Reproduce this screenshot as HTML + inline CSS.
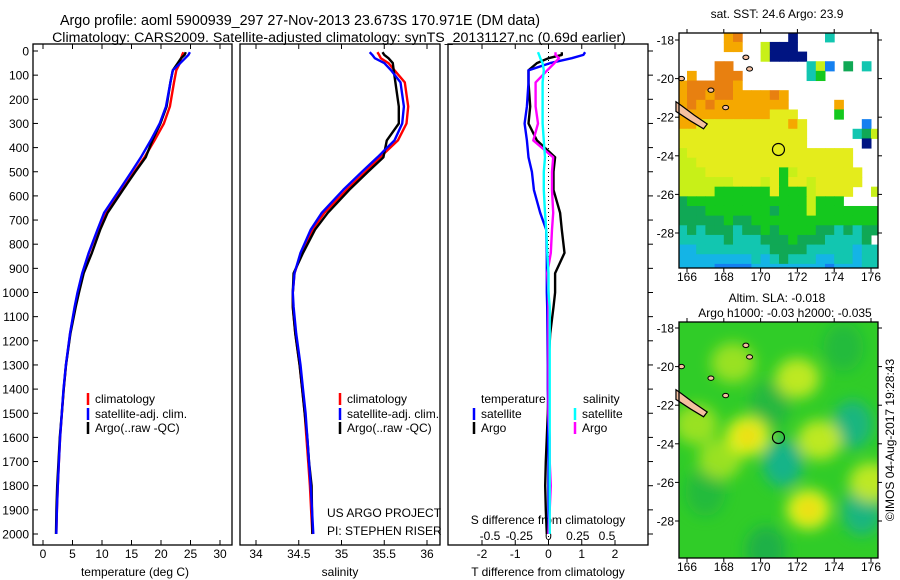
<!DOCTYPE html>
<html><head><meta charset="utf-8"><style>
body{margin:0;background:#fff;}
svg{display:block;font-family:"Liberation Sans",sans-serif;}
text{fill:#000;}
</style></head><body>
<svg id="c" width="900" height="580" viewBox="0 0 900 580">
<text x="300" y="25" font-size="14.3" text-anchor="middle">Argo profile: aoml 5900939_297 27-Nov-2013 23.673S 170.971E (DM data)</text>
<text x="339" y="42" font-size="14.2" text-anchor="middle">Climatology: CARS2009. Satellite-adjusted climatology: synTS_20131127.nc (0.69d earlier)</text>
<text x="135" y="576" font-size="12" text-anchor="middle">temperature (deg C)</text>
<text x="340" y="576" font-size="12" text-anchor="middle">salinity</text>
<text x="548" y="576" font-size="12" text-anchor="middle">T difference from climatology</text>
<text x="548" y="524" font-size="12" text-anchor="middle">S difference from climatology</text>
<text x="327" y="517" font-size="12">US ARGO PROJECT</text>
<text x="327" y="535" font-size="12">PI: STEPHEN RISER</text>
<text x="777" y="18" font-size="12" text-anchor="middle">sat. SST: 24.6 Argo: 23.9</text>
<text x="777" y="302" font-size="12" text-anchor="middle">Altim. SLA: -0.018</text>
<text x="785" y="317" font-size="12" text-anchor="middle">Argo h1000: -0.03 h2000: -0.035</text>
<text transform="translate(894,440) rotate(-90)" font-size="12" text-anchor="middle">©IMOS 04-Aug-2017 19:28:43</text>
</svg>
<script>
const depth=[5,16,30,50,80,130,230,300,370,440,500,575,670,740,836,920,1000,1060,1170,1300,1400,1500,1600,1700,1800,1900,2000];
const climT=[23.8,23.6,23.4,23.2,22.6,22.2,21.5,20.5,18.9,17.2,15.5,13.4,10.6,9.3,7.8,6.7,5.9,5.4,4.6,3.9,3.5,3.2,2.9,2.7,2.5,2.35,2.25];
const argoTdiff=[0.4,0.4,0,-0.35,-0.6,-0.6,-0.55,-0.6,-0.35,0.2,0.15,0.15,0.35,0.4,0.48,0.2,0.2,0.15,0.05,0,0,-0.02,-0.05,-0.08,-0.1,-0.08,-0.05];
const satTdiff=[1.1,1.05,0.7,0.05,-0.6,-0.6,-0.65,-0.72,-0.65,-0.6,-0.5,-0.44,-0.25,-0.07,-0.05,-0.05,-0.05,-0.04,-0.03,-0.02,-0.02,-0.01,-0.01,0,0,0,0];
const climS=[35.42,35.44,35.46,35.55,35.62,35.74,35.78,35.76,35.66,35.45,35.28,35.06,34.8,34.66,34.53,34.45,34.43,34.43,34.46,34.51,34.54,34.57,34.59,34.61,34.63,34.645,34.66];
const argoSdiff=[0.06,0.06,0.09,0.05,-0.01,-0.11,-0.11,-0.09,-0.13,0.04,0.03,0.03,0.04,0.03,0.02,-0.01,0,0,0,0,0,0,0.01,0.01,0.02,0.01,0];
const satSdiff=[-0.09,-0.08,-0.07,-0.05,-0.04,-0.05,-0.05,-0.05,-0.04,-0.03,-0.04,-0.04,-0.03,-0.02,-0.01,0,0,0.01,0.01,0.01,0.01,0.01,0.01,0.01,0.01,0.01,0.01];
const depthTicks=[0,100,200,300,400,500,600,700,800,900,1000,1100,1200,1300,1400,1500,1600,1700,1800,1900,2000];
const tempTicks=[0,5,10,15,20,25,30];
const salTicks=[34,34.5,35,35.5,36];
const tdTicks=[-2,-1,0,1,2];
const sdTicks=[-0.5,-0.25,0,0.25,0.5];
const sdTickLabels=["-0.5","-0.25","0","0.25","0.5"];
const latTicks=[-18,-20,-22,-24,-26,-28];
const lonTicks=[166,168,170,172,174,176];
const sstRows=[
"WWWWWoOWWWWWNWWWtWWWWW",
"WWWWWooWWYNNNWWWWWWWWW",
"WWWWWWWWWYNNNNWWWWWWWW",
"WWWWOOWWWWWWWWtYBWGWtW",
"WoWWOOOWWWWWWWtgWWWWWW",
"oOOOOOoWWWWWWWWWWWWWWW",
"oOOoOOooooOoWWWWWWWWWW",
"oOoOooooooooWWWWWoWWWW",
"ooooooooooyyyWWWWgWWWW",
"ooyyyyyyyyyyoyWWWWWWBW",
"yyyyyyyyyyyyyyWWWWWtGY",
"yyyyyyyyyyyyyyWWWWWWNW",
"YyyyyyyyyyyyyyyyyyyWWW",
"YYyyyyyyyyyyyyyyyyyWWW",
"YYYyyyyyyyygYyyyyyyyWW",
"YYYYYYyyyYygyyYyyyyyWW",
"YYYYggggggygggYyyyyWWY",
"GgggggggggggggYgggWWWW",
"GGGgggggggGgggYggggggg",
"GGGGGgGGgggggggggggggg",
"tGtGGGtGGgGggggGGtGtGG",
"tttttGtttGGGgGGGttttGW",
"bbttttttttGGGGtttttbtt",
"bbbbbbbbtbtGtttbbttbtt",
"bbbbBBBBbbbbbbbbBbbbtt"];
const slaBlobLon=[172,169.3,173.2,172.6,168.5,176,167.8,166.5];
const slaBlobLat=[-20.6,-23.6,-23.8,-27.4,-19.8,-26,-24.8,-23];
const slaBlobVal=[0.8,1,0.8,1,0.6,0.8,0.6,0.6];
const slaLowLon=[170.5,171.2,175,175.5,167,170.3,174.5];
const slaLowLat=[-22,-25,-23,-27.5,-26.5,-29.5,-19];
const slaLowVal=[0.6,1,0.9,0.9,0.5,0.8,0.5];
const profLon=170.971, profLat=-23.673;

const NS="http://www.w3.org/2000/svg";
const svg=document.getElementById('c');
function mk(tag,attrs,parent){const e=document.createElementNS(NS,tag);for(const k in attrs)e.setAttribute(k,attrs[k]);(parent||svg).appendChild(e);return e;}
const Y0=51, YS=0.2415;
const yD=p=>Y0+p*YS;
const xT=v=>43+v*5.9;
const xS=v=>256+(v-34)*85.5;
const xTD=v=>548.5+v*33.25;
const xSD=v=>548.5+v*117;

const panels=[[33,232,'temperature-panel'],[240,440,'salinity-panel'],[448,648,'difference-panel']];
panels.forEach(p=>{
  const r=mk('rect',{x:p[0],y:44,width:p[1]-p[0],height:501,fill:'none',stroke:'#000','stroke-width':1.3});
  
  
});
depthTicks.forEach(d=>{
  mk('line',{x1:33,x2:38,y1:yD(d),y2:yD(d),stroke:'#000'});
  mk('line',{x1:648,x2:653,y1:yD(d),y2:yD(d),stroke:'#000'});
  const t=mk('text',{x:29,y:yD(d)+4.5,'font-size':12,'text-anchor':'end'});t.textContent=d;
  
  
});
function xticks(arr,fx,labels,ty){
  arr.forEach((v,i)=>{
    const x=fx(v);
    mk('line',{x1:x,x2:x,y1:545,y2:540,stroke:'#000'});
    mk('line',{x1:x,x2:x,y1:44,y2:49,stroke:'#000'});
    const t=mk('text',{x:x,y:ty,'font-size':12,'text-anchor':'middle'});t.textContent=labels?labels[i]:v;
    
    
  });
}
xticks(tempTicks,xT,null,558);
xticks(salTicks,xS,null,558);
xticks(tdTicks,xTD,null,558);
sdTicks.forEach((v,i)=>{const t=mk('text',{x:xSD(v),y:540,'font-size':12,'text-anchor':'middle'});t.textContent=sdTickLabels[i];
  
  });

function line(vals,fx,color,name,w){
  const pts=vals.map((v,i)=>fx(v).toFixed(1)+','+yD(depth[i]).toFixed(1)).join(' ');
  const l=mk('polyline',{points:pts,fill:'none',stroke:color,'stroke-width':w||2.4,'stroke-linejoin':'round'});
  
  
}
const argoT=climT.map((v,i)=>v+argoTdiff[i]);
const satT=climT.map((v,i)=>v+satTdiff[i]);
const argoS=climS.map((v,i)=>v+argoSdiff[i]);
const satS=climS.map((v,i)=>v+satSdiff[i]);
line(climT,xT,'#f00','temp-climatology-line');
line(argoT,xT,'#000','temp-argo-line');
line(satT,xT,'#00f','temp-satellite-line');
line(climS,xS,'#f00','sal-climatology-line');
line(argoS,xS,'#000','sal-argo-line');
line(satS,xS,'#00f','sal-satellite-line');
mk('line',{x1:548.5,x2:548.5,y1:44,y2:545,stroke:'#000','stroke-dasharray':'1,3'});
line(argoTdiff,xTD,'#000','t-diff-argo-line');
line(satTdiff,xTD,'#00f','t-diff-satellite-line');
line(argoSdiff,xSD,'#f0f','s-diff-argo-line');
line(satSdiff,xSD,'#0ff','s-diff-satellite-line');

function legend(x,y,color,label){
  mk('line',{x1:x,x2:x,y1:y-10,y2:y+2,stroke:color,'stroke-width':2.5});
  const t=mk('text',{x:x+7,y:y,'font-size':12});t.textContent=label;
  
  
}
legend(88,403,'#f00','climatology');legend(88,418,'#00f','satellite-adj. clim.');legend(88,432,'#000','Argo(..raw -QC)');
legend(340,403,'#f00','climatology');legend(340,418,'#00f','satellite-adj. clim.');legend(340,432,'#000','Argo(..raw -QC)');
const lt=mk('text',{x:481,y:403,'font-size':12});lt.textContent='temperature';


const ls=mk('text',{x:583,y:403,'font-size':12});ls.textContent='salinity';


legend(474,418,'#00f','satellite');legend(474,432,'#000','Argo');
legend(575,418,'#0ff','satellite');legend(575,432,'#f0f','Argo');

const cols={W:'#fff',O:'#e88010',o:'#f5a800',y:'#e4ec1c',Y:'#c8f018',g:'#14c81e',G:'#10a855',t:'#12c6b0',b:'#14b4e6',B:'#1480f0',N:'#001482'};
function mapFrame(top,bot,lat18,name){
  const x0=679,x1=878;
  const lonx=l=>687+(l-166)*18.4;
  const laty=a=>lat18+(-18-a)*19.3;
  return {x0,x1,lonx,laty,top,bot,name};
}
function drawAxes(m){
  const r=mk('rect',{x:m.x0,y:m.top,width:m.x1-m.x0,height:m.bot-m.top,fill:'none',stroke:'#000','stroke-width':1.3});
  
  
  latTicks.forEach(a=>{const y=m.laty(a);
    mk('line',{x1:m.x0-4,x2:m.x0,y1:y,y2:y,stroke:'#000'});mk('line',{x1:m.x1,x2:m.x1+4,y1:y,y2:y,stroke:'#000'});
    const t=mk('text',{x:m.x0-5,y:y+4.5,'font-size':12,'text-anchor':'end'});t.textContent=a;
    
    });
  lonTicks.forEach(l=>{const x=m.lonx(l);
    mk('line',{x1:x,x2:x,y1:m.bot,y2:m.bot+4,stroke:'#000'});mk('line',{x1:x,x2:x,y1:m.top-4,y2:m.top,stroke:'#000'});
    const t=mk('text',{x:x,y:m.bot+13,'font-size':12,'text-anchor':'middle'});t.textContent=l;
    
    });
}
function islands(m){
  const nc=[[165.4,-21.2],[165.7,-21.4],[166.4,-21.9],[167.1,-22.35],[166.9,-22.6],[166.2,-22.2],[165.4,-21.7]];
  const p=mk('polygon',{points:nc.map(q=>m.lonx(q[0])+','+m.laty(q[1])).join(' '),fill:'#f5c0a0',stroke:'#000','stroke-width':1.2});
  
  
  [[167.3,-20.6],[168.1,-21.5],[165.7,-20.0],[169.2,-18.9],[169.4,-19.5]].forEach(q=>{
    const e=mk('ellipse',{cx:m.lonx(q[0]),cy:m.laty(q[1]),rx:3,ry:2.2,fill:'#f5c0a0',stroke:'#000','stroke-width':1});
    
    
  });
  const c=mk('circle',{cx:m.lonx(profLon),cy:m.laty(profLat),r:6,fill:'none',stroke:'#000','stroke-width':1.2});
  
  
}
const m1=mapFrame(33,268,40,'sst-map');
const cp1=mk('clipPath',{id:'cp1'});mk('rect',{x:m1.x0,y:m1.top,width:m1.x1-m1.x0,height:m1.bot-m1.top},cp1);
const g1=mk('g',{'clip-path':'url(#cp1)'});


sstRows.forEach((row,r)=>{
  const aTop=-17.6-0.5*r;
  [...row].forEach((ch,c)=>{
    if(ch==='W')return;
    const lon=165.5+0.5*c;
    const x=m1.lonx(lon),y=m1.laty(aTop);
    const cell=mk('rect',{x:x,y:y,width:m1.lonx(lon+0.5)-x+0.5,height:m1.laty(aTop-0.5)-y+0.5,fill:cols[ch]},g1);
    
    
  });
});
islands(m1);drawAxes(m1);
const m2=mapFrame(322,558,328,'sla-map');
const defs=mk('defs',{});
const f=mk('filter',{id:'bl',x:'-50%',y:'-50%',width:'200%',height:'200%'},defs);mk('feGaussianBlur',{stdDeviation:7},f);
const cp2=mk('clipPath',{id:'cp2'},defs);mk('rect',{x:m2.x0,y:m2.top,width:m2.x1-m2.x0,height:m2.bot-m2.top},cp2);
const g2=mk('g',{'clip-path':'url(#cp2)'});


mk('rect',{x:m2.x0,y:m2.top,width:m2.x1-m2.x0,height:m2.bot-m2.top,fill:'#30cc28'},g2);
const gb=mk('g',{filter:'url(#bl)'},g2);
slaLowLon.forEach((l,i)=>{const e=mk('ellipse',{cx:m2.lonx(l),cy:m2.laty(slaLowLat[i]),rx:20,ry:24,fill:slaLowVal[i]>0.85?'#18b488':'#1aaa50','opacity':slaLowVal[i]},gb);
  
  });
slaBlobLon.forEach((l,i)=>{const e=mk('ellipse',{cx:m2.lonx(l),cy:m2.laty(slaBlobLat[i]),rx:22,ry:20,fill:'#e0f01e','opacity':slaBlobVal[i]},gb);
  
  });
slaBlobLon.forEach((l,i)=>{if(slaBlobVal[i]<1)return;const e=mk('ellipse',{cx:m2.lonx(l),cy:m2.laty(slaBlobLat[i]),rx:9,ry:9,fill:'#f5d018','opacity':0.8},gb);
  
  });
islands(m2);drawAxes(m2);
</script>
</body></html>
